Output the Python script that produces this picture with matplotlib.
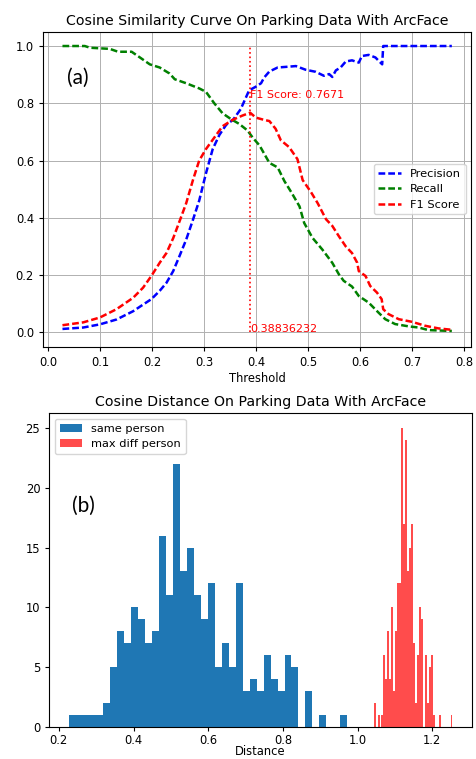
import numpy as np
import matplotlib
matplotlib.use("Agg")
import matplotlib.pyplot as plt

# ---------------- data: top chart (threshold curves) ----------------
prec_thr = [0.027, 0.067, 0.099, 0.131, 0.163, 0.182, 0.198, 0.214, 0.227, 0.240,
            0.252, 0.265, 0.278, 0.290, 0.303, 0.316, 0.329, 0.342, 0.355, 0.370,
            0.386, 0.399, 0.409, 0.415, 0.425, 0.441, 0.463, 0.476, 0.495, 0.514,
            0.530, 0.540, 0.546, 0.553, 0.562, 0.572, 0.584, 0.597, 0.603, 0.616,
            0.629, 0.642, 0.644, 0.776]
precision = [0.012, 0.017, 0.028, 0.045, 0.074, 0.097, 0.116, 0.145, 0.173, 0.214,
             0.266, 0.324, 0.393, 0.460, 0.555, 0.640, 0.690, 0.725, 0.742, 0.780,
             0.845, 0.858, 0.870, 0.890, 0.911, 0.925, 0.928, 0.930, 0.917, 0.910,
             0.896, 0.902, 0.892, 0.915, 0.925, 0.946, 0.950, 0.942, 0.965, 0.969,
             0.960, 0.936, 1.000, 1.000]

rec_thr = [0.027, 0.070, 0.080, 0.118, 0.134, 0.160, 0.176, 0.195, 0.214, 0.233,
           0.243, 0.265, 0.290, 0.303, 0.319, 0.335, 0.351, 0.367, 0.383, 0.393,
           0.406, 0.425, 0.441, 0.454, 0.467, 0.483, 0.492, 0.508, 0.527, 0.546,
           0.559, 0.568, 0.584, 0.597, 0.616, 0.635, 0.648, 0.667, 0.693, 0.712,
           0.731, 0.776]
recall = [1.000, 1.000, 0.994, 0.990, 0.980, 0.980, 0.960, 0.936, 0.925, 0.904,
          0.884, 0.870, 0.852, 0.840, 0.800, 0.765, 0.745, 0.728, 0.705, 0.680,
          0.653, 0.592, 0.576, 0.528, 0.490, 0.440, 0.382, 0.330, 0.289, 0.243,
          0.202, 0.180, 0.160, 0.127, 0.104, 0.069, 0.046, 0.029, 0.021, 0.017,
          0.008, 0.005]

f1_thr = [0.027, 0.067, 0.099, 0.131, 0.163, 0.182, 0.198, 0.214, 0.227, 0.240,
          0.252, 0.265, 0.278, 0.290, 0.303, 0.319, 0.335, 0.354, 0.373, 0.388,
          0.399, 0.415, 0.425, 0.437, 0.447, 0.463, 0.479, 0.489, 0.505, 0.518,
          0.534, 0.546, 0.559, 0.572, 0.584, 0.594, 0.597, 0.610, 0.619, 0.632,
          0.641, 0.644, 0.654, 0.674, 0.699, 0.725, 0.750, 0.776]
f1 = [0.025, 0.035, 0.052, 0.081, 0.121, 0.156, 0.197, 0.243, 0.277, 0.329,
      0.387, 0.451, 0.532, 0.600, 0.640, 0.680, 0.720, 0.742, 0.757, 0.767,
      0.750, 0.742, 0.738, 0.711, 0.671, 0.647, 0.605, 0.532, 0.490, 0.451,
      0.395, 0.372, 0.335, 0.300, 0.277, 0.243, 0.214, 0.197, 0.162, 0.139,
      0.116, 0.081, 0.064, 0.046, 0.037, 0.023, 0.014, 0.009]

best_threshold = 0.38836232
best_f1 = 0.7671

# ---------------- data: bottom chart (histograms) ----------------
same_range = (0.226, 0.972)
same_counts = [1, 1, 1, 1, 1, 2, 5, 8, 7, 10,
               9, 7, 8, 16, 11, 22, 13, 15, 11, 9,
               12, 5, 7, 5, 12, 3, 4, 3, 6, 4,
               3, 6, 5, 0, 3, 0, 1, 0, 0, 1]
diff_range = (1.0426, 1.2538)
diff_counts = [2, 0, 1, 0, 1, 6, 4, 8, 4, 10,
               3, 8, 12, 12, 25, 17, 24, 13, 15, 17,
               7, 2, 6, 10, 9, 0, 6, 2, 5, 6,
               1, 0, 0, 1, 0, 0, 0, 0, 0, 1]

# ---------------- figure ----------------
W, H = 477, 759
fig = plt.figure(figsize=(W / 100, H / 100), dpi=100)

TICK = 8.3
LW = 1.8
DASH = (2.7, 1.2)
ax1 = fig.add_axes([43 / W, 1 - 346.7 / H, 428.3 / W, 315 / H])
ax1.plot(prec_thr, precision, color='b', ls='--', lw=LW, dashes=DASH, label='Precision')
ax1.plot(rec_thr, recall, color='g', ls='--', lw=LW, dashes=DASH, label='Recall')
ax1.plot(f1_thr, f1, color='r', ls='--', lw=LW, dashes=DASH, label='F1 Score')
ax1.vlines(best_threshold, 0, 1, colors='red', linestyles='dotted', lw=1.2)
ax1.text(best_threshold, 0.817, f"F1 Score: {best_f1:.4f}", color='red', fontsize=8.0)
ax1.text(best_threshold, 0.0, f"{best_threshold:.8f}", color='red', fontsize=8.0)
ax1.grid(True, color='#b0b0b0', lw=0.7)
ax1.set_axisbelow(True)
ax1.set_title("Cosine Similarity Curve On Parking Data With ArcFace", fontsize=10.2, pad=5)
ax1.set_xlabel("Threshold", fontsize=TICK, labelpad=2)
ax1.tick_params(labelsize=TICK, length=3)
ax1.legend(loc='center right', fontsize=8.2, handlelength=2.0)

ax2 = fig.add_axes([49.3 / W, 1 - 726.7 / H, 422.4 / W, 313.4 / H])
same_edges = np.linspace(same_range[0], same_range[1], len(same_counts) + 1)
diff_edges = np.linspace(diff_range[0], diff_range[1], len(diff_counts) + 1)
ax2.hist(same_edges[:-1], bins=same_edges, weights=same_counts, color='#1f77b4', label='same person')
ax2.hist(diff_edges[:-1], bins=diff_edges, weights=diff_counts, color='red', alpha=0.7, label='max diff person')
ax2.set_title("Cosine Distance On Parking Data With ArcFace", fontsize=10.2, pad=5)
ax2.set_xlabel("Distance", fontsize=TICK, labelpad=-1)
ax2.tick_params(labelsize=TICK, length=3)
ax2.tick_params(axis='x', pad=2)
ax2.legend(loc='upper left', fontsize=8.2)

fig.text(77.5 / W, 1 - 78 / H, "(a)", fontsize=15, family='Lato', ha='center', va='center')
fig.text(83 / W, 1 - 505.5 / H, "(b)", fontsize=15, family='Lato', ha='center', va='center')

fig.savefig("out.png", dpi=100)
